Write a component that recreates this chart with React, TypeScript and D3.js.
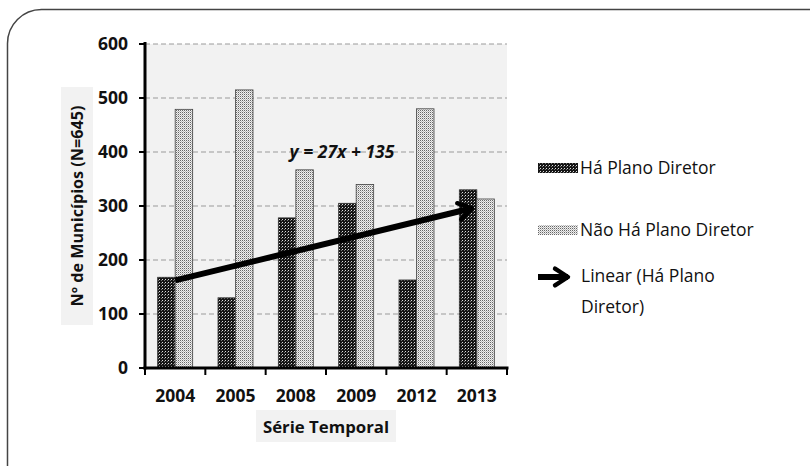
import * as React from 'react';
import * as d3 from 'd3';

const years = ['2004', '2005', '2008', '2009', '2012', '2013'];
const comPlano = [168, 130, 278, 305, 163, 330];
const semPlano = [479, 515, 367, 340, 480, 313];
const yTicks = [0, 100, 200, 300, 400, 500, 600];

const W = 810;
const H = 466;
const font = "'Open Sans', sans-serif";

const App: React.FC = () => {
  const x = d3.scaleBand<string>().domain(years).range([145, 507]);
  const y = d3.scaleLinear().domain([0, 600]).range([368, 44]);
  const barW = 17.5;

  // linear trend of "Há Plano Diretor", x = 1..n
  const xs = years.map((_, i) => i + 1);
  const mx = d3.mean(xs)!;
  const my = d3.mean(comPlano)!;
  const slope = d3.sum(xs, (v, i) => (v - mx) * (comPlano[i] - my)) / d3.sum(xs, v => (v - mx) ** 2);
  const inter = my - slope * mx;
  const cx = (i: number) => x(years[i])! + x.bandwidth() / 2;
  const x0 = cx(0);
  const x1 = cx(years.length - 1) - 5;
  const y0 = y(inter + slope * 1);
  const y1 = y(inter + slope * 6);

  return (
    <svg width={W} height={H} style={{ position: 'absolute', left: 0, top: 0, background: '#fff' }}>
      <defs>
        <pattern id="dark" width="3" height="3" patternUnits="userSpaceOnUse">
          <rect width="3" height="3" fill="#151515" />
          <rect x="0" y="0" width="1" height="1" fill="#ddd" />
          <rect x="2" y="1" width="1" height="1" fill="#777" />
        </pattern>
        <pattern id="light" width="2" height="2" patternUnits="userSpaceOnUse">
          <rect width="2" height="2" fill="#f0f0f0" />
          <rect x="0" y="0" width="1" height="1" fill="#666" />
          <rect x="1" y="1" width="1" height="1" fill="#bbb" />
        </pattern>
        <marker id="arrow" viewBox="0 0 12 12" refX="9" refY="6" markerWidth="4" markerHeight="4" orient="auto" markerUnits="strokeWidth">
          <path d="M2.5,1.8 L9,6 L2.5,10.2" fill="none" stroke="#000" strokeWidth="2.2" strokeLinecap="round" strokeLinejoin="round" />
        </marker>
      </defs>

      <rect x={7.5} y={9.5} width={840} height={490} rx={34} fill="#fff" stroke="#444" strokeWidth={1.5} />

      {/* plot area */}
      <rect x={145} y={44} width={362} height={324} fill="#f2f2f2" />
      {yTicks.slice(1).map(t => (
        <line key={t} x1={145} x2={507} y1={y(t)} y2={y(t)} stroke="#9a9a9a" strokeWidth={1} strokeDasharray="5,3" />
      ))}

      {years.map((yr, i) => {
        const c = cx(i);
        return (
          <g key={yr}>
            <rect x={c - barW} y={y(comPlano[i])} width={barW} height={y(0) - y(comPlano[i])} fill="url(#dark)" stroke="#333" strokeWidth={0.8} />
            <rect x={c} y={y(semPlano[i])} width={barW} height={y(0) - y(semPlano[i])} fill="url(#light)" stroke="#444" strokeWidth={0.8} />
          </g>
        );
      })}

      <line x1={x0} y1={y0} x2={x1} y2={y1} stroke="#000" strokeWidth={6} markerEnd="url(#arrow)" />

      <text x={342} y={152} dy="0.35em" textAnchor="middle" fontFamily={font} fontWeight="bold" fontStyle="italic" fontSize={17.5} fill="#111">
        y = {Math.round(slope)}x + {Math.round(inter)}
      </text>

      {/* axes */}
      <line x1={145} x2={145} y1={42} y2={369.5} stroke="#000" strokeWidth={3} />
      <line x1={143.5} x2={508.5} y1={368} y2={368} stroke="#000" strokeWidth={3} />
      {yTicks.map(t => (
        <g key={t}>
          <line x1={139} x2={145} y1={y(t)} y2={y(t)} stroke="#000" strokeWidth={2} />
          <text x={128} y={y(t)} dy="0.36em" textAnchor="end" fontFamily={font} fontWeight="bold" fontSize={17.5} fill="#111">{t}</text>
        </g>
      ))}
      {years.map((yr, i) => (
        <g key={yr}>
          <line x1={x(yr)!} x2={x(yr)!} y1={368} y2={375} stroke="#000" strokeWidth={2} />
          {i === years.length - 1 && <line x1={507} x2={507} y1={368} y2={375} stroke="#000" strokeWidth={2} />}
          <text x={cx(i)} y={396} dy="0.35em" textAnchor="middle" fontFamily={font} fontWeight="bold" fontSize={17.5} fill="#111">{yr}</text>
        </g>
      ))}

      {/* axis titles */}
      <rect x={256} y={410} width={140} height={32} fill="#f2f2f2" />
      <text x={326} y={427} dy="0.35em" textAnchor="middle" fontFamily={font} fontWeight="bold" fontSize={16.8} fill="#111">Série Temporal</text>
      <rect x={61} y={87} width={32} height={238} fill="#f2f2f2" />
      <text transform="translate(77,206) rotate(-90)" dy="0.35em" textAnchor="middle" fontFamily={font} fontWeight="bold" fontSize={16.2} fill="#111">Nº de Municípios (N=645)</text>

      {/* legend */}
      <rect x={538} y={163} width={40} height={10} fill="url(#dark)" />
      <text x={580} y={168} dy="0.35em" fontFamily={font} fontSize={17.5} fill="#111">Há Plano Diretor</text>
      <rect x={538} y={225} width={40} height={10} fill="url(#light)" />
      <text x={580} y={230} dy="0.35em" fontFamily={font} fontSize={17.5} fill="#111">Não Há Plano Diretor</text>
      <line x1={538} x2={568} y1={277} y2={277} stroke="#000" strokeWidth={6} markerEnd="url(#arrow)" />
      <text x={581} y={276} dy="0.35em" fontFamily={font} fontSize={17.5} fill="#111">Linear (Há Plano</text>
      <text x={581} y={307} dy="0.35em" fontFamily={font} fontSize={17.5} fill="#111">Diretor)</text>
    </svg>
  );
};

export default App;
